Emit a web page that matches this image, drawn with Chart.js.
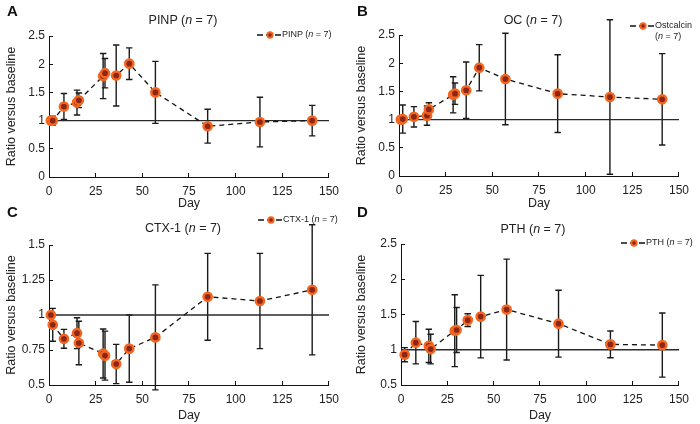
<!DOCTYPE html>
<html>
<head>
<meta charset="utf-8">
<script src="https://cdn.jsdelivr.net/npm/chart.js@4.4.1/dist/chart.umd.min.js"></script>
<style>
body{margin:0;background:#fff;font-family:"Liberation Sans",Arial,sans-serif;color:#222;}
#wrap{position:relative;width:700px;height:424px;overflow:hidden;}
.panel{position:absolute;width:350px;height:212px;}
.letter{position:absolute;font-weight:bold;font-size:15px;line-height:15px;color:#111;}
.ttl{position:absolute;font-size:12.5px;line-height:14px;transform:translate(-50%,-50%);white-space:nowrap;}
.leg{position:absolute;font-size:9px;line-height:11px;white-space:nowrap;}
</style>
</head>
<body>
<div id="wrap">
  <div class="panel" style="left:0;top:0"><canvas id="cA"></canvas></div>
  <div class="panel" style="left:350px;top:0"><canvas id="cB"></canvas></div>
  <div class="panel" style="left:0;top:212px"><canvas id="cC"></canvas></div>
  <div class="panel" style="left:350px;top:212px"><canvas id="cD"></canvas></div>

  <div class="letter" style="left:7px;top:3px">A</div>
  <div class="letter" style="left:357px;top:3px">B</div>
  <div class="letter" style="left:7px;top:204px">C</div>
  <div class="letter" style="left:357px;top:204px">D</div>

  <div class="ttl" style="left:183px;top:20px">PINP (<i>n</i> = 7)</div>
  <div class="ttl" style="left:533px;top:20px">OC (<i>n</i> = 7)</div>
  <div class="ttl" style="left:183px;top:228px">CTX-1 (<i>n</i> = 7)</div>
  <div class="ttl" style="left:533px;top:229px">PTH (<i>n</i> = 7)</div>

  <div id="legends"></div>
</div>

<script>
// sampling days (days since first dose)
var days = [1, 2, 8, 15, 16, 29, 30, 36, 43, 57, 85, 113, 141];
var daysPTH = [2, 8, 15, 16, 29, 30, 36, 43, 57, 85, 113, 141];

// ratio versus baseline, mean and SD
var pinpMean = [1.0, 1.0, 1.25, 1.32, 1.36, 1.79, 1.84, 1.80, 2.01, 1.50, 0.90, 0.975, 1.0];
var pinpSD   = [0, 0.08, 0.23, 0.22, 0.13, 0.40, 0.26, 0.54, 0.28, 0.55, 0.30, 0.44, 0.27];

var ocMean = [1.0, 1.01, 1.05, 1.07, 1.18, 1.44, 1.46, 1.52, 1.92, 1.72, 1.46, 1.40, 1.36];
var ocSD   = [0, 0.25, 0.18, 0.17, 0.12, 0.32, 0.19, 0.50, 0.41, 0.81, 0.69, 1.37, 0.81];

var ctxMean = [1.0, 0.93, 0.83, 0.87, 0.80, 0.725, 0.71, 0.65, 0.76, 0.84, 1.13, 1.10, 1.18];
var ctxSD   = [0, 0.117, 0.067, 0.11, 0.155, 0.175, 0.175, 0.14, 0.24, 0.375, 0.31, 0.34, 0.465];

var pthMean = [0.93, 1.10, 1.055, 1.01, 1.27, 1.28, 1.42, 1.47, 1.57, 1.37, 1.076, 1.066];
var pthSD   = [0.10, 0.30, 0.235, 0.21, 0.51, 0.32, 0.09, 0.585, 0.715, 0.475, 0.19, 0.455];

// axis ticks
var xTicks = [0, 25, 50, 75, 100, 125, 150];
var yTicksWide = [0, 0.5, 1, 1.5, 2, 2.5];
var yTicksCTX = [0.5, 0.75, 1, 1.25, 1.5];
var yTicksPTH = [0.5, 1, 1.5, 2, 2.5];

var FONT = '"Liberation Sans", Arial, sans-serif';

// draws the SD whiskers under the points
var errorBars = {
	id: 'errorBars',
	beforeDatasetsDraw: function(chart){
		var ds = chart.data.datasets[0];
		var meta = chart.getDatasetMeta(0);
		var ys = chart.scales.y;
		var c = chart.ctx;
		c.save();
		c.strokeStyle = '#1a1a1a';
		c.lineWidth = 1.4;
		meta.data.forEach(function(pt, i){
			var m = ds.data[i].y, s = ds.sd[i];
			if(!s){ return; }
			var yTop = ys.getPixelForValue(m + s);
			var yBot = ys.getPixelForValue(m - s);
			c.beginPath();
			c.moveTo(pt.x, yTop); c.lineTo(pt.x, yBot);
			c.moveTo(pt.x - 3.2, yTop); c.lineTo(pt.x + 3.2, yTop);
			c.moveTo(pt.x - 3.2, yBot); c.lineTo(pt.x + 3.2, yBot);
			c.stroke();
		});
		c.restore();
	}
};

function makeChart(id, dayList, mean, sd, yTicks, box){
	var pts = dayList.map(function(d, i){ return {x: d, y: mean[i]}; });
	var tickFont = {family: FONT, size: 12};
	return new Chart(document.getElementById(id), {
		type: 'line',
		data: {
			datasets: [{
				data: pts,
				sd: sd,
				borderColor: '#111',
				borderWidth: 1.3,
				borderDash: [5, 4],
				pointRadius: 4.1,
				pointBorderWidth: 2.5,
				pointBackgroundColor: '#8e2618',
				pointBorderColor: '#f2661f',
				clip: false,
				order: 0
			}, {
				// baseline reference at ratio 1
				data: [{x: xTicks[0], y: 1}, {x: xTicks[xTicks.length - 1], y: 1}],
				borderColor: '#2a2a2a',
				borderWidth: 1.3,
				pointRadius: 0,
				clip: false,
				order: 1
			}]
		},
		options: {
			responsive: true,
			maintainAspectRatio: false,
			animation: false,
			layout: {padding: {left: 0, top: box.top, right: 350 - box.right, bottom: 0}},
			plugins: {legend: {display: false}, tooltip: {enabled: false}},
			scales: {
				x: {
					type: 'linear',
					min: xTicks[0],
					max: xTicks[xTicks.length - 1],
					afterBuildTicks: function(s){ s.ticks = xTicks.map(function(v){ return {value: v}; }); },
					afterFit: function(s){ s.height = 212 - box.bottom; },
					ticks: {font: tickFont, color: '#222', padding: 11, maxRotation: 0,
						callback: function(v){ return String(v); }},
					grid: {drawOnChartArea: false, tickLength: -4, color: '#111'},
					border: {color: '#111', width: 1},
					title: {display: true, text: 'Day', font: {family: FONT, size: 12.5}, color: '#222', padding: {top: 0, bottom: 1}}
				},
				y: {
					min: yTicks[0],
					max: yTicks[yTicks.length - 1],
					afterBuildTicks: function(s){ s.ticks = yTicks.map(function(v){ return {value: v}; }); },
					afterFit: function(s){ s.width = box.left; },
					ticks: {font: tickFont, color: '#222', padding: 8,
						callback: function(v){ return String(v); }},
					grid: {drawOnChartArea: false, tickLength: -4, color: '#111'},
					border: {color: '#111', width: 1},
					title: {display: true, text: 'Ratio versus baseline', font: {family: FONT, size: 12.5}, color: '#222', padding: {top: 4, bottom: 0}}
				}
			}
		},
		plugins: [errorBars]
	});
}

makeChart('cA', days, pinpMean, pinpSD, yTicksWide, {left: 49, right: 330, top: 36, bottom: 177});
makeChart('cB', days, ocMean, ocSD, yTicksWide, {left: 49, right: 329, top: 35, bottom: 176});
makeChart('cC', days, ctxMean, ctxSD, yTicksCTX, {left: 49, right: 329, top: 33, bottom: 173});
makeChart('cD', daysPTH, pthMean, pthSD, yTicksPTH, {left: 51, right: 333, top: 32, bottom: 173});

// legends: dashed line with marker, then the label
function marker(){
	return '<svg width="24" height="10" style="vertical-align:middle">' +
		'<line x1="0" y1="5" x2="24" y2="5" stroke="#111" stroke-width="1.3" stroke-dasharray="6,3"/>' +
		'<circle cx="13" cy="5" r="2.7" fill="#8e2618" stroke="#f2661f" stroke-width="1.9"/></svg>';
}
var legendSpots = [
	{x: 257, y: 29, html: 'PINP (<i>n</i> = 7)'},
	{x: 630, y: 20, html: 'Ostcalcin<br>(<i>n</i> = 7)'},
	{x: 258, y: 214, html: 'CTX-1 (<i>n</i> = 7)'},
	{x: 621, y: 237, html: 'PTH (<i>n</i> = 7)'}
];
var legHtml = '';
legendSpots.forEach(function(l){
	legHtml += '<div class="leg" style="left:' + l.x + 'px;top:' + l.y + 'px">' +
		'<span style="position:absolute;left:0;top:0">' + marker() + '</span>' +
		'<span style="position:absolute;left:25px;top:0">' + l.html + '</span></div>';
});
document.getElementById('legends').innerHTML = legHtml;
</script>
</body>
</html>
